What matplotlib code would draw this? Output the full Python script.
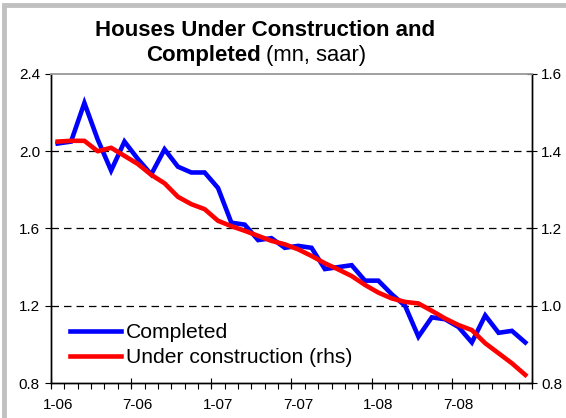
import numpy as np
import matplotlib
matplotlib.use('Agg')
import matplotlib.pyplot as plt
from matplotlib.patches import Rectangle

plt.rcParams['font.family'] = ['Liberation Sans', 'DejaVu Sans']

# monthly data, Jan 2006 .. Dec 2008 (mn, saar)
months = ['1-06', '2-06', '3-06', '4-06', '5-06', '6-06', '7-06', '8-06', '9-06', '10-06', '11-06', '12-06',
          '1-07', '2-07', '3-07', '4-07', '5-07', '6-07', '7-07', '8-07', '9-07', '10-07', '11-07', '12-07',
          '1-08', '2-08', '3-08', '4-08', '5-08', '6-08', '7-08', '8-08', '9-08', '10-08', '11-08', '12-08']

completed = [2.04, 2.05, 2.25, 2.06, 1.90, 2.05, 1.96, 1.88, 2.01, 1.92, 1.89, 1.89,
             1.81, 1.63, 1.62, 1.54, 1.55, 1.50, 1.51, 1.50, 1.39, 1.40, 1.41, 1.33,
             1.33, 1.26, 1.20, 1.04, 1.14, 1.13, 1.09, 1.01, 1.15, 1.06, 1.07, 1.01]

under_construction = [1.425, 1.427, 1.427, 1.400, 1.409, 1.388, 1.367, 1.339, 1.317, 1.282, 1.263, 1.250,
                      1.220, 1.206, 1.194, 1.181, 1.168, 1.159, 1.146, 1.129, 1.110, 1.094, 1.077, 1.054,
                      1.034, 1.019, 1.010, 1.006, 0.987, 0.967, 0.950, 0.937, 0.903, 0.877, 0.851, 0.821]

left_ticks = [0.8, 1.2, 1.6, 2.0, 2.4]
right_ticks = [0.8, 1.0, 1.2, 1.4, 1.6]
label_every = 6

x = np.arange(len(months))

fig = plt.figure(figsize=(5.66, 4.18), dpi=100)

# light grey frame of the chart area (cropped on the right and bottom)
fig.patches.append(Rectangle((0.007, -1.0), 2.0, 1.988, transform=fig.transFigure,
                             fill=False, edgecolor='#c0c0c0', linewidth=3.5))

ax = fig.add_axes([0.0901, 0.0837, 0.8498, 0.7393])
ax2 = ax.twinx()

ax.plot(x, completed, color='#0000ff', linewidth=3.3, solid_joinstyle='miter', label='Completed')
ax2.plot(x, under_construction, color='#ff0000', linewidth=3.3, label='Under construction (rhs)')

ax.set_xlim(-0.5, len(months) - 0.5)
ax.set_ylim(left_ticks[0], left_ticks[-1])
ax2.set_ylim(right_ticks[0], right_ticks[-1])

# dashed grid at the inner levels
for lv in left_ticks[1:-1]:
    ax.axhline(lv, color='black', linewidth=0.9, dashes=(6, 4), zorder=1)

ax.set_yticks(left_ticks)
ax.set_yticklabels(['%.1f' % v for v in left_ticks])
ax2.set_yticks(right_ticks)
ax2.set_yticklabels(['%.1f' % v for v in right_ticks])

lab_pos = x[::label_every]
ax.set_xticks(lab_pos)
ax.set_xticklabels([months[i] for i in lab_pos])
ax.set_xticks(np.arange(-0.5, len(months)), minor=True)
ax.tick_params(axis='x', which='major', length=0, pad=11, labelsize=11)
ax.tick_params(axis='x', which='minor', direction='out', length=4, width=0.8)
ax.tick_params(axis='y', direction='out', length=4, width=0.8, labelsize=11, pad=4)
ax2.tick_params(axis='y', direction='inout', length=7, width=0.8, labelsize=11, pad=3)

# longer ticks at half-year boundaries
sec = ax.secondary_xaxis('bottom')
sec.set_xticks(np.arange(-0.5, len(months), label_every))
sec.set_xticklabels([])
sec.tick_params(direction='inout', length=7, width=0.8)
sec.spines['bottom'].set_visible(False)

for a in (ax, ax2):
    a.spines['top'].set_color('#a0a0a0')
    a.spines['top'].set_linewidth(1.2)
    for s in ('left', 'right', 'bottom'):
        a.spines[s].set_linewidth(1.0)

h1, l1 = ax.get_legend_handles_labels()
h2, l2 = ax2.get_legend_handles_labels()
ax2.legend(h1 + h2, l1 + l2, loc='center left', bbox_to_anchor=(0.04, 0.122),
           frameon=False, fontsize=15.2, handlelength=2.4, handletextpad=0.25,
           labelspacing=0.3, borderpad=0, borderaxespad=0)

fig.text(265 / 566, 1 - 30 / 418, 'Houses Under Construction and', ha='center', va='center',
         fontsize=16, fontweight='bold')
fig.text(261 / 566, 1 - 55 / 418, 'Completed', ha='right', va='center',
         fontsize=16, fontweight='bold')
fig.text(266 / 566, 1 - 55 / 418, '(mn, saar)', ha='left', va='center', fontsize=15.8)

fig.savefig('out.png', dpi=100)
